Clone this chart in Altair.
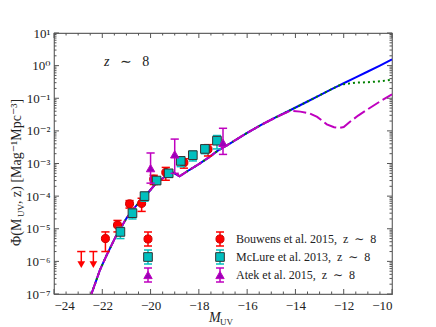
import altair as alt
import pandas as pd

# ---------------- data ----------------
bouwens_M = [-21.87, -21.37, -20.87, -20.37, -19.87, -19.37, -18.62, -17.62]
bouwens_phi = [5.0e-6, 1.3e-5, 5.8e-5, 6.0e-5, 3.31e-4, 5.33e-4, 1.06e-3, 2.74e-3]
bouwens_err = [3.0e-6, 5.0e-6, 1.5e-5, 2.6e-5, 1.04e-4, 2.26e-4, 3.4e-4, 1.04e-3]
limit_M = [-22.87, -22.37]
limit_phi = [2.0e-6, 2.0e-6]
limit_tip = [8.0e-7, 8.0e-7]

mclure_M = [-21.25, -20.75, -20.25, -19.75, -19.25, -18.75, -18.25, -17.75, -17.25]
mclure_phi = [8.0e-6, 3.0e-5, 1.0e-4, 3.0e-4, 5.0e-4, 1.2e-3, 1.8e-3, 2.8e-3, 5.0e-3]
mclure_err = [3.0e-6, 1.0e-5, 3.0e-5, 6.0e-5, 1.2e-4, 4.0e-4, 6.0e-4, 8.0e-4, 2.2e-3]

atek_M = [-20.0, -19.0, -17.0]
atek_phi = [7.2e-4, 1.9e-3, 4.3e-3]
atek_lo = [2.5e-4, 5.0e-4, 1.9e-3]
atek_hi = [2.1e-3, 5.6e-3, 1.2e-2]

blue_M = [-22.45, -22.1, -21.8, -21.45, -21.0, -20.6, -20.2, -19.8, -19.4, -19.06, -18.8,
          -18.4, -18.0, -17.6, -17.2, -16.7, -16.0, -15.4, -14.8, -14.2, -13.5, -13.0,
          -12.5, -12.2, -12.0, -11.5, -11.0, -10.5, -10.0]
blue_log = [-7.0, -6.27, -5.78, -5.25, -4.68, -4.30, -3.98, -3.63, -3.40, -3.28, -3.39,
            -3.20, -3.02, -2.82, -2.60, -2.38, -2.06, -1.81, -1.58, -1.36, -1.10, -0.91,
            -0.72, -0.61, -0.54, -0.36, -0.18, 0.0, 0.19]

green_M = [-12.2, -12.0, -11.5, -11.0, -10.5, -10.0]
green_log = [-0.61, -0.57, -0.52, -0.51, -0.48, -0.43]

magenta_M = [-14.2, -13.8, -13.4, -13.1, -12.7, -12.4, -12.2, -12.0, -11.74, -11.4,
             -11.05, -10.5, -10.0]
magenta_log = [-1.38, -1.41, -1.47, -1.57, -1.80, -1.89, -1.91, -1.88, -1.72, -1.53,
               -1.36, -1.10, -0.88]

NB = "\u00a0"
legend_labels = [f"Bouwens et al. 2015,{NB}{NB}z{NB}{NB}\u223c{NB}{NB}8",
                 f"McLure et al. 2013,{NB}{NB}z{NB}{NB}\u223c{NB}{NB}8",
                 f"Atek et al. 2015,{NB}{NB}z{NB}{NB}\u223c{NB}{NB}8"]

x_major = list(range(-24, -9, 2))
x_minor = [v / 2 for v in range(-48, -19) if v % 4 != 0]
y_exps = list(range(-7, 2))
y_major = [10.0 ** e for e in y_exps]
y_minor = [k * 10.0 ** e for e in range(-7, 1) for k in range(2, 10)]

# ---------------- styling ----------------
W, H = 338, 261
SERIF = "Liberation Serif, DejaVu Serif, serif"
RED, CYAN, MAG, TRI = "#ff0000", "#00bfbf", "#bf00bf", "#9a00b8"
CAP = 0.17

xs = alt.Scale(domain=[-24, -10], nice=False, zero=False)
ys = alt.Scale(type="log", domain=[1e-7, 10], nice=False)

sup = {"-": "\u207b", "0": "\u2070", "1": "\u00b9", "2": "\u00b2", "3": "\u00b3",
       "4": "\u2074", "5": "\u2075", "6": "\u2076", "7": "\u2077"}
expr = "''"
for e in y_exps:
    s = "10" + "".join(sup[c] for c in str(e))
    expr = f"(abs(log(datum.value)/LN10 - ({e})) < 0.01 ? '{s}' : {expr})"

x_axis = alt.Axis(values=x_major, ticks=False, domain=False, grid=False,
                  labelFont=SERIF, labelFontSize=13, labelColor="#222", labelPadding=5,
                  labelExpr="replace(format(datum.value, 'd'), '-', '\u2212')", title=None)
y_axis = alt.Axis(values=y_major, ticks=False, domain=False, grid=False,
                  labelFont=SERIF, labelFontSize=13, labelColor="#222", labelPadding=4,
                  labelExpr=expr, title=None)


def X(f):
    return alt.X(f"{f}:Q", scale=xs, axis=x_axis)


def Y(f):
    return alt.Y(f"{f}:Q", scale=ys, axis=y_axis)


# full model curves (shared part + departures)
blue_df = pd.DataFrame({"M": blue_M, "phi": [10 ** v for v in blue_log]})
green_df = pd.DataFrame({
    "M": [m for m in blue_M if m < -12.2] + green_M,
    "phi": [10 ** v for m, v in zip(blue_M, blue_log) if m < -12.2] + [10 ** v for v in green_log]})
mag_df = pd.DataFrame({
    "M": [m for m in blue_M if m < -14.2] + magenta_M,
    "phi": [10 ** v for m, v in zip(blue_M, blue_log) if m < -14.2] + [10 ** v for v in magenta_log]})

layers = []
layers.append(alt.Chart(blue_df).mark_line(color="#0000ff", strokeWidth=2, clip=True)
              .encode(x=X("M"), y=Y("phi")))
layers.append(alt.Chart(green_df).mark_line(color="#008000", strokeWidth=2, strokeDash=[2, 3], clip=True)
              .encode(x=X("M"), y=Y("phi")))
layers.append(alt.Chart(mag_df).mark_line(color=MAG, strokeWidth=2, strokeDash=[13, 4], clip=True)
              .encode(x=X("M"), y=Y("phi")))


def errlayers(df, color, lo, hi):
    base = alt.Chart(df).transform_calculate(xl=f"datum.M - {CAP}", xr=f"datum.M + {CAP}")
    out = [base.mark_rule(color=color, strokeWidth=1.5).encode(x=X("M"), y=Y(lo), y2=alt.Y2(f"{hi}:Q"))]
    for f in (lo, hi):
        out.append(base.mark_rule(color=color, strokeWidth=1.5)
                   .encode(x=X("xl"), x2=alt.X2("xr:Q"), y=Y(f)))
    return out


bdf = pd.DataFrame({"M": bouwens_M, "phi": bouwens_phi,
                    "lo": [p - e for p, e in zip(bouwens_phi, bouwens_err)],
                    "hi": [p + e for p, e in zip(bouwens_phi, bouwens_err)]})
ldf = pd.DataFrame({"M": limit_M, "phi": limit_phi, "tip": limit_tip})
mdf = pd.DataFrame({"M": mclure_M, "phi": mclure_phi,
                    "lo": [p - e for p, e in zip(mclure_phi, mclure_err)],
                    "hi": [p + e for p, e in zip(mclure_phi, mclure_err)]})
adf = pd.DataFrame({"M": atek_M, "phi": atek_phi, "lo": atek_lo, "hi": atek_hi})

# Bouwens
layers += errlayers(bdf, RED, "lo", "hi")
lb = alt.Chart(ldf).transform_calculate(xl=f"datum.M - {CAP}", xr=f"datum.M + {CAP}")
layers.append(lb.mark_rule(color=RED, strokeWidth=1.5).encode(x=X("M"), y=Y("tip"), y2=alt.Y2("phi:Q")))
layers.append(lb.mark_rule(color=RED, strokeWidth=1.5).encode(x=X("xl"), x2=alt.X2("xr:Q"), y=Y("phi")))
layers.append(alt.Chart(ldf).mark_point(shape="triangle-down", filled=True, color=RED, size=60, opacity=1)
              .encode(x=X("M"), y=Y("tip")))
layers.append(alt.Chart(bdf).mark_point(shape="circle", filled=True, fill=RED, stroke="#cc0000",
                                        strokeWidth=1, size=65, opacity=1)
              .encode(x=X("M"), y=Y("phi")))
# McLure
layers += errlayers(mdf, CYAN, "lo", "hi")
layers.append(alt.Chart(mdf).mark_point(shape="square", filled=True, fill=CYAN, stroke="#333333",
                                        strokeWidth=1, size=75, opacity=1)
              .encode(x=X("M"), y=Y("phi")))
# Atek
layers += errlayers(adf, MAG, "lo", "hi")
layers.append(alt.Chart(adf).mark_point(shape="triangle-up", filled=True, fill=TRI, stroke=MAG,
                                        strokeWidth=1, size=70, opacity=1)
              .encode(x=X("M"), y=Y("phi")))

# ---------------- inward ticks ----------------
TICK = "#555555"
xmaj = pd.DataFrame({"v": x_major})
xmin = pd.DataFrame({"v": x_minor})
ymaj = pd.DataFrame({"v": y_major})
ymin = pd.DataFrame({"v": y_minor})
for df, ln in ((xmaj, 5), (xmin, 2.5)):
    layers.append(alt.Chart(df).mark_rule(color=TICK, strokeWidth=1)
                  .encode(x=X("v"), y=alt.value(H), y2=alt.value(H - ln)))
    layers.append(alt.Chart(df).mark_rule(color=TICK, strokeWidth=1)
                  .encode(x=X("v"), y=alt.value(0), y2=alt.value(ln)))
for df, ln in ((ymaj, 5), (ymin, 2.5)):
    layers.append(alt.Chart(df).mark_rule(color=TICK, strokeWidth=1)
                  .encode(y=Y("v"), x=alt.value(0), x2=alt.value(ln)))
    layers.append(alt.Chart(df).mark_rule(color=TICK, strokeWidth=1)
                  .encode(y=Y("v"), x=alt.value(W), x2=alt.value(W - ln)))

# ---------------- legend ----------------
one = pd.DataFrame({"a": [0]})
leg_x = [94, 166]
leg_y = [206, 224, 242]
leg_style = [
    dict(shape="circle", fill=RED, stroke="#cc0000", size=65, ecol=RED),
    dict(shape="square", fill=CYAN, stroke="#333333", size=75, ecol=CYAN),
    dict(shape="triangle-up", fill=TRI, stroke=MAG, size=70, ecol=MAG),
]
for label, ly, st in zip(legend_labels, leg_y, leg_style):
    for lx in leg_x:
        layers.append(alt.Chart(one).mark_rule(color=st["ecol"], strokeWidth=1.5)
                      .encode(x=alt.value(lx), y=alt.value(ly - 7), y2=alt.value(ly + 7)))
        for yy in (ly - 7, ly + 7):
            layers.append(alt.Chart(one).mark_rule(color=st["ecol"], strokeWidth=1.5)
                          .encode(x=alt.value(lx - 4), x2=alt.value(lx + 4), y=alt.value(yy)))
        layers.append(alt.Chart(one).mark_point(shape=st["shape"], filled=True, fill=st["fill"],
                                                stroke=st["stroke"], strokeWidth=1, size=st["size"], opacity=1)
                      .encode(x=alt.value(lx), y=alt.value(ly)))
    layers.append(alt.Chart(one).mark_text(text=label, font=SERIF, fontSize=12, align="left",
                                           baseline="middle", color="#222")
                  .encode(x=alt.value(182), y=alt.value(ly)))

# ---------------- annotations / titles ----------------
layers.append(alt.Chart(one).mark_text(text="z", font=SERIF, fontStyle="italic", fontSize=14,
                                       align="left", baseline="middle", color="#222")
              .encode(x=alt.value(50), y=alt.value(29)))
layers.append(alt.Chart(one).mark_text(text=f"\u223c{NB}{NB}{NB}8", font=SERIF, fontSize=14,
                                       align="left", baseline="middle", color="#222")
              .encode(x=alt.value(66), y=alt.value(29)))
# x title  M_UV
layers.append(alt.Chart(one).mark_text(text="M", font=SERIF, fontStyle="italic", fontSize=14,
                                       align="left", baseline="middle", color="#222")
              .encode(x=alt.value(155), y=alt.value(285)))
layers.append(alt.Chart(one).mark_text(text="UV", font=SERIF, fontSize=9,
                                       align="left", baseline="middle", color="#222")
              .encode(x=alt.value(166), y=alt.value(289)))
# y title  Φ(M_UV, z) [Mag^-1 Mpc^-3]
YT_X = -37
YT_Y0 = 213
layers.append(alt.Chart(one).mark_text(text="\u03a6(M", font=SERIF, fontSize=14, angle=270,
                                       align="left", baseline="middle", color="#222")
              .encode(x=alt.value(YT_X), y=alt.value(YT_Y0)))
layers.append(alt.Chart(one).mark_text(text="UV", font=SERIF, fontSize=9, angle=270,
                                       align="left", baseline="middle", color="#222")
              .encode(x=alt.value(YT_X + 4), y=alt.value(YT_Y0 - 29)))
layers.append(alt.Chart(one).mark_text(text=", z) [Mag\u207b\u00b9Mpc\u207b\u00b3]", font=SERIF,
                                       fontSize=14, angle=270, align="left", baseline="middle",
                                       color="#222")
              .encode(x=alt.value(YT_X), y=alt.value(YT_Y0 - 42)))

chart = alt.layer(*layers).properties(
    width=W, height=H,
    autosize=alt.AutoSizeParams(type="none"),
    padding={"left": 46, "top": 25, "right": 36, "bottom": 40},
).configure_view(stroke="#666666", strokeWidth=1.2)

chart.save("out.html", embed_options={"renderer": "svg", "actions": False})
